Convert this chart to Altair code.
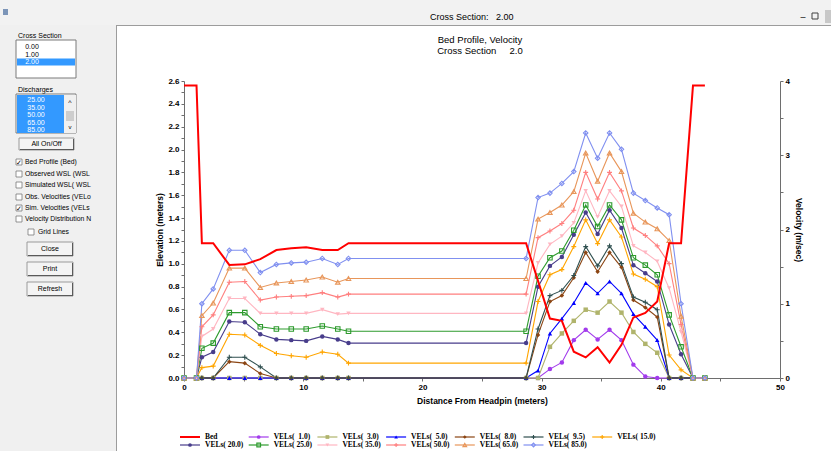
import altair as alt
import pandas as pd

# ---------------------------------------------------------------
# Cross section 2.0 : bed profile and simulated velocities
# ---------------------------------------------------------------

# stations across the section (m from headpin)
X_LEFT = [0.0, 1.05, 1.5, 2.45, 3.8, 5.1, 6.4, 7.75, 9.0, 10.25, 11.6, 12.9, 13.8]
X_RIGHT = [28.7, 29.7, 30.7, 31.7, 32.7, 33.7, 34.7, 35.7, 36.7, 37.7,
           38.7, 39.7, 40.7, 41.7, 42.7, 43.7]
STATIONS = X_LEFT + X_RIGHT

# bed elevation (m)
BED_LEFT = [2.56, 2.56, 1.18, 1.18, 0.99, 0.995, 1.04, 1.12, 1.135, 1.145, 1.12, 1.12, 1.18]
BED_RIGHT = [1.18, 0.85, 0.52, 0.50, 0.23, 0.18, 0.27, 0.135, 0.29, 0.53,
             0.57, 0.67, 1.18, 1.18, 2.56, 2.56]
BED = BED_LEFT + BED_RIGHT

# simulated velocities (m/s), one list per discharge
DISCHARGES = [1.0, 3.0, 5.0, 8.0, 9.5, 15.0, 20.0, 25.0, 35.0, 50.0, 65.0, 85.0]
VEL_1 = [0] * 13 + [0, 0, 0.12, 0.21, 0.51, 0.65, 0.52, 0.65, 0.51, 0.18, 0.02, 0, 0, 0, 0, 0]
VEL_3 = [0] * 13 + [0, 0, 0.42, 0.60, 0.77, 0.92, 0.88, 1.03, 0.88, 0.62, 0.46, 0.34, 0, 0, 0, 0]
VEL_5 = [0] * 13 + [0, 0.10, 0.60, 0.80, 1.01, 1.28, 1.14, 1.30, 1.14, 0.86, 0.69, 0.51, 0, 0, 0, 0]
VEL_8 = [0, 0, 0, 0, 0.22, 0.20, 0.06, 0, 0, 0, 0, 0, 0] + \
        [0, 0.58, 1.03, 1.11, 1.35, 1.69, 1.43, 1.69, 1.49, 1.05, 0.95, 0.82, 0, 0, 0, 0]
VEL_9_5 = [0, 0, 0, 0, 0.28, 0.28, 0.15, 0, 0, 0, 0, 0, 0] + \
          [0, 0.66, 1.11, 1.18, 1.38, 1.77, 1.51, 1.78, 1.54, 1.09, 1.02, 0.92, 0, 0, 0, 0]
VEL_15 = [0, 0, 0.14, 0.16, 0.59, 0.58, 0.44, 0.33, 0.30, 0.28, 0.35, 0.32, 0.20] + \
         [0.20, 1.03, 1.39, 1.46, 1.77, 2.13, 1.81, 2.13, 1.90, 1.40, 1.33, 1.23, 0.31, 0.11, 0, 0]
VEL_20 = [0, 0, 0.28, 0.35, 0.76, 0.75, 0.59, 0.52, 0.51, 0.50, 0.56, 0.52, 0.47] + \
         [0.47, 1.23, 1.51, 1.63, 1.93, 2.23, 1.94, 2.26, 2.02, 1.52, 1.41, 1.30, 0.72, 0.32, 0, 0]
VEL_25 = [0, 0, 0.40, 0.47, 0.88, 0.88, 0.69, 0.66, 0.66, 0.66, 0.70, 0.66, 0.63] + \
         [0.63, 1.37, 1.62, 1.71, 1.99, 2.33, 2.04, 2.33, 2.13, 1.62, 1.52, 1.39, 0.85, 0.42, 0, 0]
VEL_35 = [0, 0, 0.56, 0.66, 1.07, 1.07, 0.87, 0.87, 0.87, 0.87, 0.92, 0.86, 0.87] + \
         [0.87, 1.55, 1.80, 1.91, 2.09, 2.52, 2.17, 2.52, 2.31, 1.78, 1.69, 1.57, 1.21, 0.62, 0, 0]
VEL_50 = [0, 0, 0.69, 0.85, 1.29, 1.30, 1.05, 1.09, 1.10, 1.11, 1.15, 1.09, 1.13] + \
         [1.13, 1.89, 1.98, 2.08, 2.26, 2.77, 2.41, 2.77, 2.52, 2.02, 1.92, 1.78, 1.54, 0.72, 0, 0]
VEL_65 = [0, 0, 0.84, 1.01, 1.48, 1.48, 1.22, 1.28, 1.30, 1.32, 1.36, 1.29, 1.34] + \
         [1.34, 2.14, 2.23, 2.33, 2.51, 3.03, 2.65, 3.03, 2.78, 2.22, 2.10, 2.01, 1.85, 0.83, 0, 0]
VEL_85 = [0, 0, 1.00, 1.20, 1.72, 1.72, 1.42, 1.53, 1.55, 1.56, 1.61, 1.53, 1.61] + \
         [1.61, 2.43, 2.49, 2.62, 2.78, 3.30, 2.96, 3.30, 3.08, 2.49, 2.39, 2.29, 2.20, 1.00, 0, 0]
VELOCITIES = [VEL_1, VEL_3, VEL_5, VEL_8, VEL_9_5, VEL_15, VEL_20, VEL_25,
              VEL_35, VEL_50, VEL_65, VEL_85]

# ---------------------------------------------------------------
# styling
# ---------------------------------------------------------------
NB = "\u00a0"
SANS = "Liberation Sans"
SERIF = "Liberation Serif"

LABELS = [f"VELs({q:5.1f})".replace(" ", NB) for q in DISCHARGES]
SERIES_COLORS = ["#A23BEC", "#B0B46C", "#0000FF", "#8B4513", "#2F4F4F", "#FFA500",
                 "#483D8B", "#2E9B2E", "#FFB6C1", "#FF7F7F", "#E8965A", "#8090F0"]
BED_COLOR = "#FF0000"
PLUS = "M-1,0L1,0M0,-1L0,1"
# marker kind for every discharge: (shape, filled)
MARKER_KIND = {
    1.0: ("circle", True), 3.0: ("square", True), 5.0: ("triangle-up", True),
    8.0: ("diamond", True), 9.5: (PLUS, False), 15.0: (PLUS, False),
    20.0: ("circle", True), 25.0: ("square", False), 35.0: ("triangle-down", True),
    50.0: (PLUS, False), 65.0: ("triangle-up", False), 85.0: ("diamond", False),
}

color_scale = alt.Scale(domain=["Bed"] + LABELS, range=[BED_COLOR] + SERIES_COLORS)

# ---------------------------------------------------------------
# tables
# ---------------------------------------------------------------
vel_rows = []
for q, lab, vals in zip(DISCHARGES, LABELS, VELOCITIES):
    for s, v in zip(STATIONS, vals):
        vel_rows.append({"station": s, "vel": v, "series": lab})
vel_df = pd.DataFrame(vel_rows)
bed_df = pd.DataFrame({"station": STATIONS, "elev": BED})

# legend entries laid out in two rows of seven
OX, OY = 184, 81          # plot origin inside the window
leg_names = ["Bed"] + LABELS
leg_df = pd.DataFrame({"series": leg_names, "idx": range(len(leg_names))})
leg_df["col"] = leg_df["idx"] % 7
leg_df["row"] = leg_df["idx"] // 7
leg_df["lx"] = 180 - OX + leg_df["col"] * 68.7
leg_df["lx2"] = leg_df["lx"] + 20
leg_df["mx"] = leg_df["lx"] + 10
leg_df["tx"] = leg_df["lx"] + 25
leg_df["ly"] = 437 - OY + leg_df["row"] * 8

# ---------------------------------------------------------------
# axes
# ---------------------------------------------------------------
axis_common = dict(grid=False, labelFont=SANS, labelFontSize=8, labelFontWeight="bold",
                   labelColor="#000000", titleFont=SANS, titleFontSize=8.5,
                   titleFontWeight="bold", titleColor="#000000", domainColor="#6E6E6E",
                   tickColor="#6E6E6E", tickSize=3, labelFlush=False, labelOverlap=False,
                   labelPadding=2)

x_axis = alt.Axis(values=list(range(0, 51, 5)),
                  labelExpr="datum.value % 10 == 0 ? datum.label : ''",
                  title="Distance From Headpin (meters)", titlePadding=5, **axis_common)
elev_axis = alt.Axis(orient="left", values=[round(i * 0.1, 1) for i in range(27)],
                     labelExpr="round(datum.value * 10) % 2 == 0 ? format(datum.value, '.1f') : ''",
                     title="Elevation (meters)", titlePadding=3, **axis_common)
vel_axis = alt.Axis(orient="right", values=[i * 0.5 for i in range(9)],
                    labelExpr="datum.value % 1 == 0 ? format(datum.value, 'd') : ''",
                    title="Velocity (m/sec)", titlePadding=4, **axis_common)

X = alt.X("station:Q", scale=alt.Scale(domain=[0, 50], nice=False, zero=False), axis=x_axis)
YV = alt.Y("vel:Q", scale=alt.Scale(domain=[0, 4], nice=False), axis=vel_axis)
YB = alt.Y("elev:Q", scale=alt.Scale(domain=[0, 2.6], nice=False), axis=elev_axis)
COLOR = alt.Color("series:N", scale=color_scale, legend=None)


def marker_layers(base, x, y, size):
    """One point layer per marker kind."""
    kinds = {}
    for q, lab in zip(DISCHARGES, LABELS):
        kinds.setdefault(MARKER_KIND[q], []).append(lab)
    out = []
    for (shape, filled), labs in kinds.items():
        sw = 1.0 if filled else 1.1
        sz = size * (1.2 if shape == PLUS else 1.0)
        out.append(
            base.transform_filter(alt.FieldOneOfPredicate(field="series", oneOf=labs))
            .mark_point(shape=shape, filled=filled, size=sz, strokeWidth=sw, opacity=1)
            .encode(x=x, y=y, color=COLOR)
        )
    return out


# velocity lines + markers (right axis)
vbase = alt.Chart(vel_df)
vel_lines = vbase.mark_line(strokeWidth=1.1).encode(x=X, y=YV, color=COLOR)
vel_layer = alt.layer(vel_lines, *marker_layers(vbase, X, YV, 20))

# bed profile (left axis)
bed_layer = alt.Chart(bed_df).mark_line(color=BED_COLOR, strokeWidth=2).encode(x=X, y=YB)

# legend
lbase = alt.Chart(leg_df)
LX = alt.X("lx:Q", scale=None)
LX2 = alt.X2("lx2:Q")
LY = alt.Y("ly:Q", scale=None)
leg_lines = lbase.mark_rule(strokeWidth=1.2).encode(
    x=LX, x2=LX2, y=LY, color=COLOR)
leg_bed = lbase.transform_filter(alt.datum.series == "Bed").mark_rule(strokeWidth=2).encode(
    x=LX, x2=LX2, y=LY, color=COLOR)
leg_marks = marker_layers(lbase, alt.X("mx:Q", scale=None), LY, 14)
leg_text = lbase.mark_text(align="left", baseline="middle", font=SERIF, fontSize=7.5,
                           fontWeight="bold", color="#000000").encode(
    x=alt.X("tx:Q", scale=None), y=LY, text="series:N")

# ---------------------------------------------------------------
# window frame around the plot
# ---------------------------------------------------------------
ONE = pd.DataFrame({"k": [0]})


def box(x0, y0, x1, y1, fill, stroke=None, sw=1.0):
    kw = {"fill": fill}
    if stroke:
        kw.update(stroke=stroke, strokeWidth=sw)
    return alt.Chart(ONE).mark_rect(**kw).encode(
        x=alt.value(x0 - OX), x2=alt.value(x1 - OX),
        y=alt.value(y0 - OY), y2=alt.value(y1 - OY))


def txt(s, x, y, size=7, color="#000000", align="left", font=SANS, weight="normal"):
    return alt.Chart(ONE).mark_text(text=s, align=align, baseline="middle", fontSize=size,
                                    font=font, fontWeight=weight, color=color).encode(
        x=alt.value(x - OX), y=alt.value(y - OY))


def checkbox(x, y, checked):
    parts = [box(x, y - 3, x + 6, y + 3, "#FFFFFF", "#7A7A7A", 0.8)]
    if checked:
        parts.append(txt("\u2713", x + 3, y + 0.5, size=7, align="center", font="DejaVu Sans"))
    return parts


def button(x0, y0, x1, y1, label):
    return [box(x0, y0, x1, y1, "#F4F4F4", "#9A9A9A", 1),
            box(x0 + 1, y1 - 1, x1, y1, "#5A5A5A"),
            box(x1 - 1, y0 + 1, x1, y1, "#5A5A5A"),
            txt(label, (x0 + x1) / 2, (y0 + y1) / 2, size=7, align="center")]


frame = [
    box(0, 0, 831, 25, "#F2F2F2"),
    box(0, 25, 116, 451, "#F0F0F0"),
    box(116, 25, 117, 451, "#9C9C9C"),
    box(116, 25, 831, 26, "#9C9C9C"),
    box(3, 9, 8, 15, "#7C95B8"),
    txt(f"Cross Section:{NB * 3}2.00", 430, 17, size=9),
    txt("\u2013", 803, 17, size=9, align="center"),
    box(812, 13, 818, 19, "#F2F2F2", "#404040", 1),
    box(825, 10, 831, 23, "#C8C8C8"),
    # cross-section list
    txt("Cross Section", 18, 36, size=7),
    box(16, 40, 76, 78, "#FFFFFF", "#7A7A7A", 1),
    txt("0.00", 32, 47, size=7, align="center"),
    txt("1.00", 32, 54.5, size=7, align="center"),
    box(17, 58.5, 75, 65.5, "#3399FF"),
    txt("2.00", 32, 62, size=7, align="center", color="#FFFFFF"),
    # discharge list
    txt("Discharges", 18, 90, size=7),
    box(16, 94, 76, 133, "#FFFFFF", "#7A7A7A", 1),
    box(17, 95, 64, 133, "#3399FF"),
    box(64, 95, 76, 133, "#F0F0F0"),
    box(66, 111, 74, 121, "#CDCDCD"),
    txt("^", 70, 103, size=7, align="center"),
    txt("v", 70, 127, size=6, align="center"),
    txt("25.00", 36, 100, size=7, align="center", color="#FFFFFF"),
    txt("35.00", 36, 107.5, size=7, align="center", color="#FFFFFF"),
    txt("50.00", 36, 115, size=7, align="center", color="#FFFFFF"),
    txt("65.00", 36, 122.5, size=7, align="center", color="#FFFFFF"),
    txt("85.00", 36, 130, size=7, align="center", color="#FFFFFF"),
]
frame += button(19, 138, 74, 150, "All On/Off")
options = [("Bed Profile (Bed)", True, 162), ("Observed WSL (WSL", False, 174),
           ("Simulated WSL( WSL", False, 185), ("Obs. Velocities (VELo", False, 197),
           ("Sim. Velocities (VELs", True, 208), ("Velocity Distribution N", False, 219)]
for lab, chk, yy in options:
    frame += checkbox(16, yy, chk)
    frame.append(txt(lab, 25, yy, size=6.8))
frame += checkbox(28, 232, False)
frame.append(txt("Grid Lines", 38, 232, size=6.8))
frame += button(27, 242, 73, 256, "Close")
frame += button(27, 262, 73, 276, "Print")
frame += button(27, 282, 73, 296, "Refresh")

# chart title
frame.append(txt("Bed Profile, Velocity", 480, 40, size=9.5, align="center"))
frame.append(txt(f"Cross Section{NB * 5}2.0", 480, 51, size=9.5, align="center"))

chart = alt.layer(
    *frame,
    vel_layer,
    bed_layer,
    leg_lines, leg_bed, *leg_marks, leg_text,
).resolve_scale(
    y="independent"
).properties(
    width=596, height=297,
    padding={"left": 184, "top": 81, "right": 51, "bottom": 73},
    autosize=alt.AutoSizeParams(type="none"),
    background="#FFFFFF",
).configure_view(stroke=None)

chart.save("out.html", embed_options={"renderer": "svg", "actions": False})
